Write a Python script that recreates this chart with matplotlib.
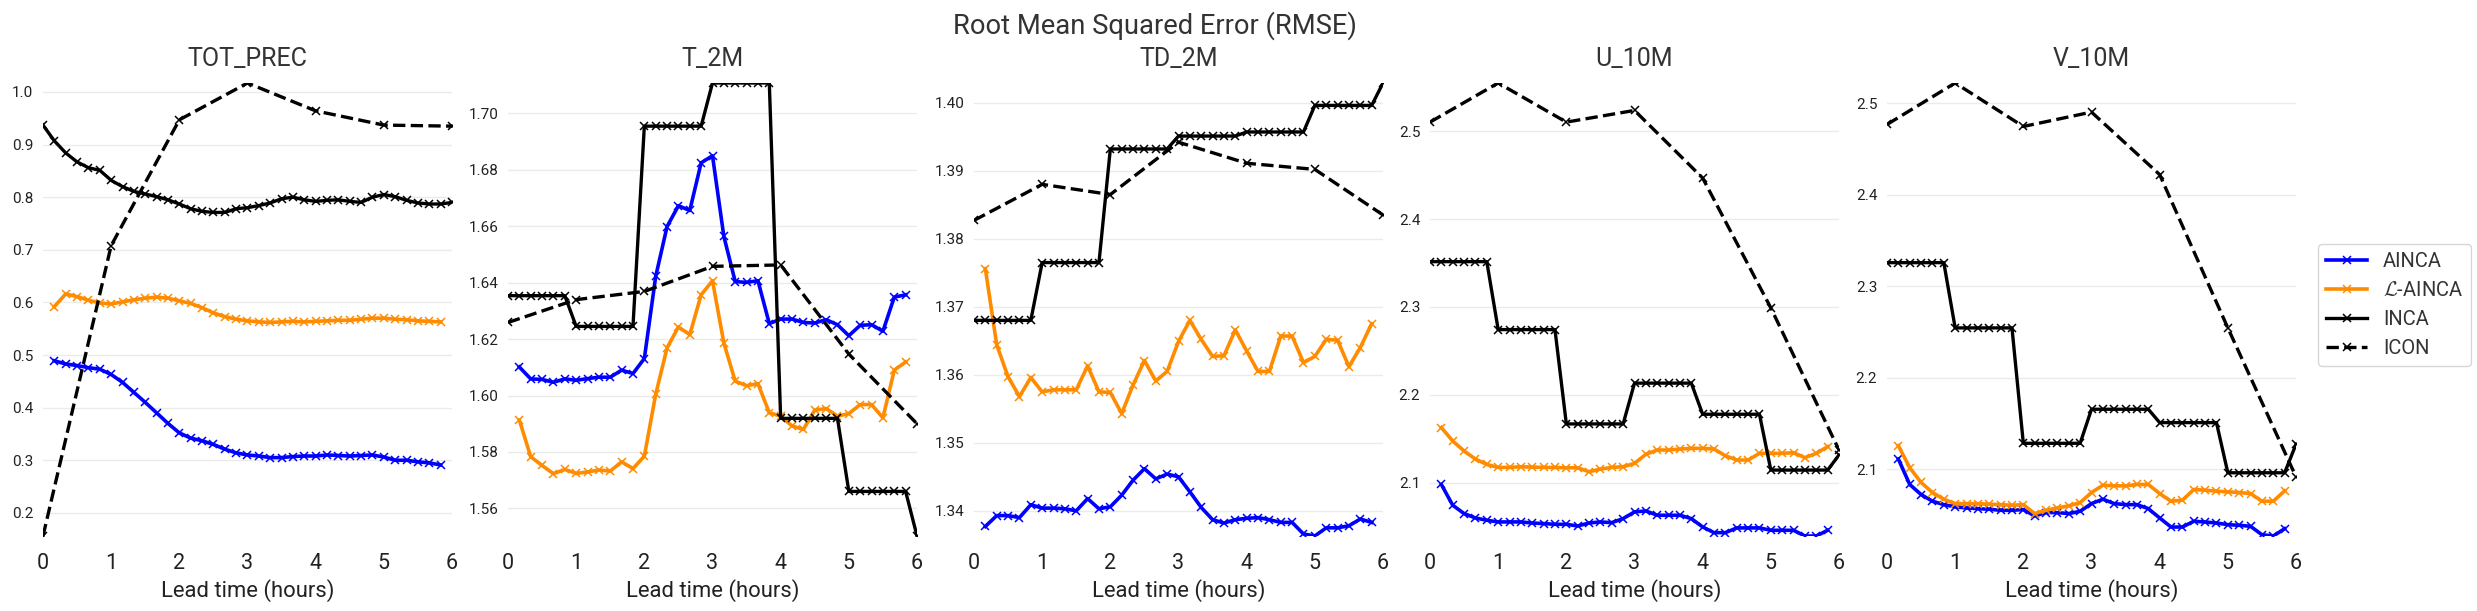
import numpy as np
import matplotlib.pyplot as plt

plt.rcParams['font.family'] = ['Roboto', 'DejaVu Sans']
plt.rcParams['mathtext.fontset'] = 'cm'

variables = ["TOT_PREC", "T_2M", "TD_2M", "U_10M", "V_10M"]
lead = np.arange(37) / 6          # every 10 minutes, 0..6 h
lead_ai = lead[1:36]              # AINCA models: 10 min .. 5h50
lead_icon = np.arange(7)          # hourly

# ---- TOT_PREC ----
ainca_tp = [0.489, 0.483, 0.480, 0.476, 0.473, 0.463, 0.448, 0.429, 0.410, 0.390, 0.370, 0.352,
            0.342, 0.337, 0.330, 0.321, 0.314, 0.310, 0.308, 0.305, 0.305, 0.307, 0.308, 0.308,
            0.310, 0.309, 0.308, 0.309, 0.310, 0.306, 0.300, 0.300, 0.297, 0.295, 0.291]
lainca_tp = [0.592, 0.616, 0.611, 0.604, 0.599, 0.597, 0.601, 0.605, 0.608, 0.610, 0.608, 0.603,
             0.598, 0.590, 0.580, 0.573, 0.568, 0.565, 0.563, 0.562, 0.563, 0.564, 0.563, 0.564,
             0.565, 0.566, 0.566, 0.568, 0.570, 0.570, 0.568, 0.567, 0.565, 0.564, 0.563]
inca_tp = [0.937, 0.907, 0.884, 0.867, 0.856, 0.851, 0.832, 0.820, 0.811, 0.806, 0.801, 0.795,
           0.787, 0.778, 0.773, 0.771, 0.771, 0.778, 0.780, 0.784, 0.789, 0.797, 0.800, 0.795,
           0.792, 0.794, 0.795, 0.792, 0.790, 0.800, 0.805, 0.801, 0.794, 0.789, 0.787, 0.787,
           0.790]
icon_tp = [0.156, 0.708, 0.947, 1.017, 0.964, 0.937, 0.935]

# ---- T_2M ----
ainca_t2 = [1.6101, 1.6059, 1.6057, 1.6047, 1.6059, 1.6054, 1.6060, 1.6065, 1.6065, 1.6090, 1.6078,
            1.6131, 1.6422, 1.6599, 1.6673, 1.6656, 1.6825, 1.6850, 1.6564, 1.6404, 1.6401, 1.6407,
            1.6255, 1.6271, 1.6271, 1.6259, 1.6257, 1.6269, 1.6251, 1.6212, 1.6249, 1.6251, 1.6228,
            1.6349, 1.6357]
lainca_t2 = [1.5913, 1.5783, 1.5752, 1.5723, 1.5738, 1.5724, 1.5729, 1.5736, 1.5732, 1.5765, 1.5741,
             1.5785, 1.6004, 1.6169, 1.6243, 1.6216, 1.6357, 1.6407, 1.6186, 1.6051, 1.6035, 1.6042,
             1.5939, 1.5927, 1.5892, 1.5880, 1.5948, 1.5954, 1.5927, 1.5936, 1.5968, 1.5968, 1.5921,
             1.6090, 1.6119]
inca_t2 = [1.6354, 1.6354, 1.6354, 1.6354, 1.6354, 1.6354,
           1.6245, 1.6245, 1.6245, 1.6245, 1.6245, 1.6245,
           1.6955, 1.6955, 1.6955, 1.6955, 1.6955, 1.6955,
           1.7108, 1.7108, 1.7108, 1.7108, 1.7108, 1.7108,
           1.5919, 1.5919, 1.5919, 1.5919, 1.5919, 1.5919,
           1.5660, 1.5660, 1.5660, 1.5660, 1.5660, 1.5660,
           1.5502]
icon_t2 = [1.6259, 1.6340, 1.6369, 1.6458, 1.6463, 1.6147, 1.5900]

# ---- TD_2M ----
ainca_td = [1.3377, 1.3393, 1.3393, 1.3390, 1.3409, 1.3404, 1.3404, 1.3403, 1.3400, 1.3418, 1.3403,
            1.3406, 1.3423, 1.3445, 1.3462, 1.3447, 1.3454, 1.3450, 1.3428, 1.3405, 1.3387, 1.3382,
            1.3387, 1.3389, 1.3390, 1.3387, 1.3383, 1.3383, 1.3366, 1.3363, 1.3375, 1.3375, 1.3378,
            1.3388, 1.3383]
lainca_td = [1.3756, 1.3644, 1.3597, 1.3568, 1.3596, 1.3575, 1.3578, 1.3578, 1.3578, 1.3613, 1.3575,
             1.3574, 1.3543, 1.3585, 1.3621, 1.3591, 1.3605, 1.3649, 1.3680, 1.3652, 1.3627, 1.3628,
             1.3666, 1.3635, 1.3605, 1.3605, 1.3657, 1.3657, 1.3618, 1.3627, 1.3652, 1.3651, 1.3612,
             1.3640, 1.3675]
inca_td = [1.3680, 1.3680, 1.3680, 1.3680, 1.3680, 1.3680,
           1.3765, 1.3765, 1.3765, 1.3765, 1.3765, 1.3765,
           1.3932, 1.3932, 1.3932, 1.3932, 1.3932, 1.3932,
           1.3951, 1.3951, 1.3951, 1.3951, 1.3951, 1.3951,
           1.3957, 1.3957, 1.3957, 1.3957, 1.3957, 1.3957,
           1.3996, 1.3996, 1.3996, 1.3996, 1.3996, 1.3996,
           1.4029]
icon_td = [1.3827, 1.3880, 1.3865, 1.3942, 1.3911, 1.3902, 1.3835]

# ---- U_10M ----
ainca_u = [2.0981, 2.0745, 2.0650, 2.0600, 2.0574, 2.0555, 2.0555, 2.0555, 2.0543, 2.0536, 2.0528,
           2.0528, 2.0509, 2.0543, 2.0555, 2.0547, 2.0593, 2.0669, 2.0680, 2.0631, 2.0631, 2.0631,
           2.0593, 2.0498, 2.0433, 2.0433, 2.0487, 2.0487, 2.0487, 2.0460, 2.0460, 2.0460, 2.0395,
           2.0395, 2.0460]
lainca_u = [2.1628, 2.1476, 2.1362, 2.1270, 2.1209, 2.1175, 2.1175, 2.1183, 2.1179, 2.1175, 2.1175,
            2.1171, 2.1171, 2.1126, 2.1156, 2.1175, 2.1183, 2.1221, 2.1324, 2.1373, 2.1373, 2.1384,
            2.1392, 2.1392, 2.1384, 2.1308, 2.1259, 2.1259, 2.1335, 2.1335, 2.1335, 2.1343, 2.1286,
            2.1335, 2.1411]
inca_u = [2.3516, 2.3516, 2.3516, 2.3516, 2.3516, 2.3516,
          2.2743, 2.2743, 2.2743, 2.2743, 2.2743, 2.2743,
          2.1670, 2.1670, 2.1670, 2.1670, 2.1670, 2.1670,
          2.2134, 2.2134, 2.2134, 2.2134, 2.2134, 2.2134,
          2.1780, 2.1780, 2.1780, 2.1780, 2.1780, 2.1780,
          2.1145, 2.1145, 2.1145, 2.1145, 2.1145, 2.1145,
          2.1316]
icon_u = [2.5103, 2.5548, 2.5103, 2.5236, 2.4467, 2.2990, 2.1373]

# ---- V_10M ----
ainca_v = [2.1110, 2.0832, 2.0722, 2.0649, 2.0612, 2.0587, 2.0576, 2.0568, 2.0561, 2.0550, 2.0550,
           2.0558, 2.0488, 2.0525, 2.0525, 2.0514, 2.0539, 2.0623, 2.0671, 2.0623, 2.0612, 2.0612,
           2.0568, 2.0466, 2.0367, 2.0367, 2.0430, 2.0422, 2.0411, 2.0393, 2.0386, 2.0375, 2.0283,
           2.0269, 2.0349]
lainca_v = [2.1256, 2.1015, 2.0854, 2.0744, 2.0671, 2.0623, 2.0623, 2.0623, 2.0616, 2.0612, 2.0605,
            2.0612, 2.0514, 2.0550, 2.0576, 2.0598, 2.0634, 2.0744, 2.0824, 2.0817, 2.0817, 2.0832,
            2.0832, 2.0733, 2.0649, 2.0660, 2.0777, 2.0770, 2.0759, 2.0752, 2.0744, 2.0733, 2.0649,
            2.0649, 2.0762]
inca_v = [2.3256, 2.3256, 2.3256, 2.3256, 2.3256, 2.3256,
          2.2543, 2.2543, 2.2543, 2.2543, 2.2543, 2.2543,
          2.1282, 2.1282, 2.1282, 2.1282, 2.1282, 2.1282,
          2.1654, 2.1654, 2.1654, 2.1654, 2.1654, 2.1654,
          2.1508, 2.1508, 2.1508, 2.1508, 2.1508, 2.1508,
          2.0960, 2.0960, 2.0960, 2.0960, 2.0960, 2.0960,
          2.1271]
icon_v = [2.4766, 2.5219, 2.4744, 2.4901, 2.4218, 2.2543, 2.0916]

ainca = [ainca_tp, ainca_t2, ainca_td, ainca_u, ainca_v]
lainca = [lainca_tp, lainca_t2, lainca_td, lainca_u, lainca_v]
inca = [inca_tp, inca_t2, inca_td, inca_u, inca_v]
icon = [icon_tp, icon_t2, icon_td, icon_u, icon_v]
ystep = [0.1, 0.02, 0.01, 0.1, 0.1]

W, H = 2477, 611
fig = plt.figure(figsize=(W / 100, H / 100), dpi=100)
lefts = [43, 508, 974, 1430, 1887]
axw = 409
top_px, bot_px = 83, 536

mk = dict(marker='x', markersize=6, markeredgewidth=1.1)
for i, var in enumerate(variables):
    ax = fig.add_axes([lefts[i] / W, 1 - bot_px / H, axw / W, (bot_px - top_px) / H])
    ax.plot(lead_ai, ainca[i], color='blue', lw=2.6, label='AINCA', **mk)
    ax.plot(lead_ai, lainca[i], color='darkorange', lw=2.6, label=r'$\mathcal{L}$-AINCA', **mk)
    ax.plot(lead, inca[i], color='black', lw=2.4, label='INCA', **mk)
    ax.plot(lead_icon, icon[i], color='black', lw=2.4, ls='--', label='ICON', **mk)
    ax.margins(0)
    ax.set_xlim(0, 6)
    ax.set_xticks(range(7))
    ax.yaxis.set_major_locator(plt.MultipleLocator(ystep[i]))
    ax.grid(axis='y', color='#ebebeb', lw=1)
    ax.set_axisbelow(True)
    for s in ax.spines.values():
        s.set_visible(False)
    ax.tick_params(axis='x', length=0, pad=12.5, labelsize=15.5, labelcolor='#222222')
    ax.tick_params(axis='y', length=0, pad=7, labelsize=11, labelcolor='#222222')
    ax.set_title(var, fontsize=18, color='#333333', pad=12)
    ax.set_xlabel("Lead time (hours)", fontsize=15.8, color='#222222', labelpad=3)
    if i == 4:
        ax.legend(loc='center left', bbox_to_anchor=(1.03, 0.51), fontsize=14.5,
                  frameon=True, edgecolor='#cccccc', labelcolor='#333333')

fig.suptitle("Root Mean Squared Error (RMSE)", x=1155 / W, y=1 - 34 / H, va='baseline',
             fontsize=19.7, color='#333333')
plt.savefig("out.png", dpi=100)
